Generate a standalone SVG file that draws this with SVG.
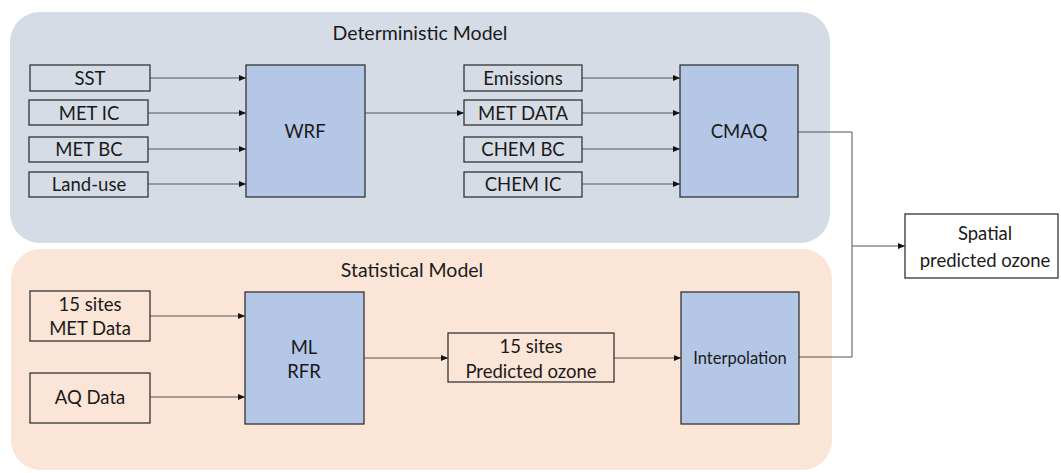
<svg xmlns="http://www.w3.org/2000/svg" width="1061" height="473" viewBox="0 0 1061 473">
<defs>
<marker id="ah" markerWidth="7" markerHeight="6" refX="7" refY="3" orient="auto" markerUnits="userSpaceOnUse">
<path d="M0,0 L7,3 L0,6 z" fill="#111"/>
</marker>
<style>
text{font-family:Lato,"Liberation Sans",sans-serif;fill:#1a1a1a;text-anchor:middle;dominant-baseline:central}
.lbl{font-size:18.5px}
.ttl{font-size:19.5px}
.inp{fill:none;stroke:#333;stroke-width:1.3}
.wbox{fill:#fff;stroke:#333;stroke-width:1.3}
.blue{fill:#b4c7e7;stroke:#333;stroke-width:1.3}
.c{fill:none;stroke:#555;stroke-width:1}
.a{marker-end:url(#ah)}
</style>
</defs>
<rect width="1061" height="473" fill="#fff"/>
<g id="deterministic-panel">
<rect x="10" y="12" width="820" height="231" rx="30" fill="#d6dce5"/>
<text class="ttl" x="420" y="32">Deterministic Model</text>
</g>
<g id="statistical-panel">
<rect x="11" y="249" width="821" height="221" rx="30" fill="#fbe5d6"/>
<text class="ttl" x="412" y="269">Statistical Model</text>
</g>
<g id="connectors">
<line class="c a" x1="150" y1="78" x2="246" y2="78"/>
<line class="c a" x1="148" y1="113" x2="246" y2="113"/>
<line class="c a" x1="148" y1="149" x2="246" y2="149"/>
<line class="c a" x1="148" y1="184" x2="246" y2="184"/>
<line class="c a" x1="365" y1="113" x2="464" y2="113"/>
<line class="c a" x1="582" y1="78" x2="680" y2="78"/>
<line class="c a" x1="582" y1="113" x2="680" y2="113"/>
<line class="c a" x1="582" y1="149" x2="680" y2="149"/>
<line class="c a" x1="582" y1="184" x2="680" y2="184"/>
<polyline class="c" points="798,132 852,132 852,357 799,357"/>
<line class="c a" x1="852" y1="246" x2="905" y2="246"/>
<line class="c a" x1="150" y1="316" x2="245" y2="316"/>
<line class="c a" x1="150" y1="397" x2="245" y2="397"/>
<line class="c a" x1="364" y1="358" x2="448" y2="358"/>
<line class="c a" x1="614" y1="358" x2="681" y2="358"/>
</g>
<g id="sst"><rect class="inp" x="30" y="65" width="120" height="26"/><text class="lbl" x="90" y="78">SST</text></g>
<g id="met-ic"><rect class="inp" x="29" y="100" width="119" height="25"/><text class="lbl" x="89" y="113">MET IC</text></g>
<g id="met-bc"><rect class="inp" x="29" y="137" width="119" height="25"/><text class="lbl" x="89" y="149">MET BC</text></g>
<g id="land-use"><rect class="inp" x="29" y="172" width="119" height="25"/><text class="lbl" x="89" y="184">Land-use</text></g>
<g id="wrf"><rect class="blue" x="246" y="65" width="119" height="132"/><text class="lbl" x="305" y="131">WRF</text></g>
<g id="emissions"><rect class="inp" x="464" y="65" width="118" height="26"/><text class="lbl" x="523" y="78">Emissions</text></g>
<g id="met-data"><rect class="inp" x="464" y="100" width="118" height="25"/><text class="lbl" x="523" y="113">MET DATA</text></g>
<g id="chem-bc"><rect class="inp" x="464" y="137" width="118" height="25"/><text class="lbl" x="523" y="149">CHEM BC</text></g>
<g id="chem-ic"><rect class="inp" x="464" y="172" width="118" height="25"/><text class="lbl" x="523" y="184">CHEM IC</text></g>
<g id="cmaq"><rect class="blue" x="680" y="65" width="118" height="132"/><text class="lbl" x="739" y="131">CMAQ</text></g>
<g id="spatial"><rect class="wbox" x="905" y="214" width="153" height="64"/><text class="lbl" x="985" y="233">Spatial</text><text class="lbl" x="985" y="260">predicted ozone</text></g>
<g id="met-data-15"><rect class="inp" x="30" y="291" width="120" height="50"/><text class="lbl" x="90" y="304">15 sites</text><text class="lbl" x="90" y="328">MET Data</text></g>
<g id="aq-data"><rect class="inp" x="30" y="373" width="120" height="50"/><text class="lbl" x="90" y="397">AQ Data</text></g>
<g id="ml-rfr"><rect class="blue" x="245" y="292" width="119" height="132"/><text class="lbl" x="304" y="347">ML</text><text class="lbl" x="304" y="371">RFR</text></g>
<g id="predicted-ozone"><rect class="inp" x="448" y="333" width="166" height="49"/><text class="lbl" x="531" y="346">15 sites</text><text class="lbl" x="531" y="371">Predicted ozone</text></g>
<g id="interpolation"><rect class="blue" x="681" y="292" width="118" height="132"/><text class="lbl" x="740" y="358" style="font-size:16.5px">Interpolation</text></g>
</svg>
